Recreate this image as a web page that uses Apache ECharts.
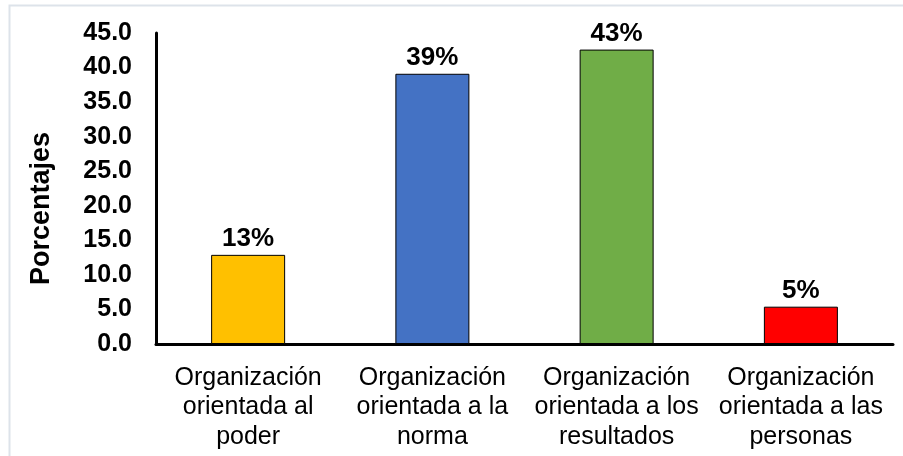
<!DOCTYPE html>
<html>
<head>
<meta charset="utf-8">
<script src="https://cdn.jsdelivr.net/npm/echarts@6/dist/echarts.min.js"></script>
<style>
  html, body { margin: 0; padding: 0; background: #fff; }
  #chart { width: 903px; height: 456px; }
</style>
</head>
<body>
<div id="chart"></div>
<script>
  // data
  const categories = [
    'Organización\norientada al\npoder',
    'Organización\norientada a la\nnorma',
    'Organización\norientada a los\nresultados',
    'Organización\norientada a las\npersonas'
  ]
  const values = [12.9, 39.1, 42.6, 5.4]
  const valueLabels = ['13%', '39%', '43%', '5%']
  const barColors = ['#FFC000', '#4472C4', '#70AD47', '#FF0000']

  const font = 'Liberation Sans, Arial, sans-serif'
  const mychart = echarts.init(document.getElementById('chart'))

  mychart.setOption({
    animation: false,
    backgroundColor: '#fff',
    graphic: [{
      type: 'rect',
      shape: { x: 9.5, y: 5.5, width: 900, height: 460 },
      style: { fill: 'none', stroke: '#dde3ea', lineWidth: 2 },
      silent: true
    }],
    grid: { left: 156, right: 10, top: 33, bottom: 112 },
    xAxis: {
      type: 'category',
      data: categories,
      axisLine: { show: true, lineStyle: { color: '#000', width: 3 } },
      axisTick: { show: false },
      axisLabel: {
        interval: 0,
        color: '#000',
        fontFamily: font,
        fontSize: 25,
        lineHeight: 29.5,
        margin: 19
      }
    },
    yAxis: {
      type: 'value',
      min: 0,
      max: 45,
      interval: 5,
      name: 'Porcentajes',
      nameLocation: 'middle',
      nameGap: 101,
      nameTextStyle: {
        color: '#000',
        fontFamily: font,
        fontSize: 27,
        fontWeight: 'bold',
        padding: [0, 40, 0, 0]
      },
      axisLine: { show: true, lineStyle: { color: '#000', width: 3 } },
      axisTick: { show: false },
      splitLine: { show: false },
      axisLabel: {
        color: '#000',
        fontFamily: font,
        fontSize: 25,
        fontWeight: 'bold',
        margin: 24,
        formatter: (v) => v.toFixed(1)
      }
    },
    series: [{
      type: 'bar',
      barWidth: 74,
      data: values.map((v, i) => ({
        value: v,
        itemStyle: { color: barColors[i], borderColor: '#000', borderWidth: 1 }
      })),
      label: {
        show: true,
        position: 'top',
        distance: 3,
        color: '#000',
        fontFamily: font,
        fontSize: 26,
        fontWeight: 'bold',
        formatter: (p) => valueLabels[p.dataIndex]
      }
    }]
  })
</script>
</body>
</html>
